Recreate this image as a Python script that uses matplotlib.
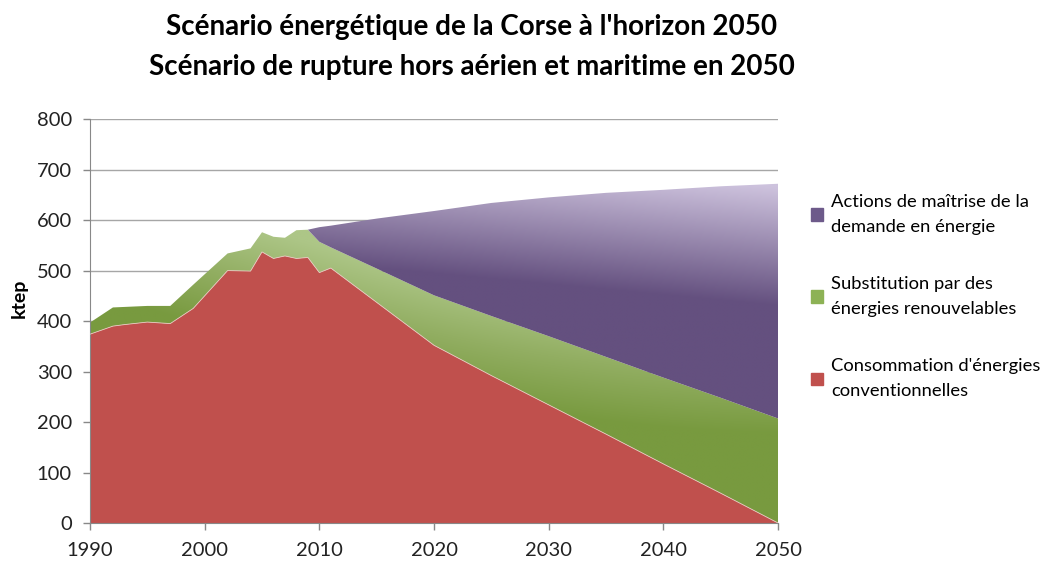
import numpy as np
import matplotlib
matplotlib.use("Agg")
import matplotlib.pyplot as plt
from matplotlib.colors import LinearSegmentedColormap
from matplotlib.patches import Patch

plt.rcParams['font.family'] = ['Lato', 'DejaVu Sans']

years = [1990, 1992, 1993, 1995, 1997, 1999, 2002, 2004, 2005, 2006, 2007, 2008,
         2009, 2010, 2011, 2013, 2015, 2020, 2025, 2030, 2035, 2040, 2045, 2050]
# conventional energy consumption (ktep)
conventionnelles = [374, 390, 393, 398, 395, 425, 500, 499, 537, 524, 529, 524,
                    526, 496, 505, 471, 437, 352, 292, 234, 176, 117, 59, 0]
# total with renewables (ktep)
total_enr = [397, 427, 428, 430, 430, 472, 534, 544, 576, 567, 565, 580,
             581, 557, 546, 525, 504, 451, 410, 370, 329, 288, 248, 207]
# total trend without demand-side actions (ktep)
total_tendanciel = [397, 427, 428, 430, 430, 472, 534, 544, 576, 567, 565, 580,
                    581, 586, 589, 596, 603, 618, 634, 645, 654, 660, 667, 672]

labels = ["Consommation d'énergies\nconventionnelles",
          "Substitution par des\nénergies renouvelables",
          "Actions de maîtrise de la\ndemande en énergie"]

x = np.array(years, dtype=float)
red = np.array(conventionnelles, dtype=float)
green = np.array(total_enr, dtype=float) - red
purple = np.array(total_tendanciel, dtype=float) - np.array(total_enr, dtype=float)

fig = plt.figure(figsize=(10.55, 5.62), dpi=100)
ax = fig.add_axes([0.0853, 0.0694, 0.6522, 0.7186])

ax.set_axisbelow(True)
ax.yaxis.grid(True, color='#a6a6a6', linewidth=1.0)

polys = ax.stackplot(x, red, green, purple,
                     colors=['#c0504d', '#8db255', '#6d5a8a'], linewidth=0)

# gradient fills
gx = np.linspace(1990, 2050, 300)
gy = np.linspace(0, 800, 400)
GX, GY = np.meshgrid(gx, gy)

cm_green = LinearSegmentedColormap.from_list(
    'g', [(0, '#789a3f'), (0.5, '#92ae62'), (1, '#adc687')])
sg = GY + 6.8 * (GX - 2010) - 0.08 * np.clip(GX - 2010, 0, None) ** 2
tg = np.clip((sg - 320) / 230, 0, 1)
img = ax.imshow(tg, extent=[1990, 2050, 0, 800], origin='lower', aspect='auto',
                cmap=cm_green, vmin=0, vmax=1, zorder=polys[1].get_zorder(),
                interpolation='bilinear')
img.set_clip_path(polys[1].get_paths()[0], transform=ax.transData)
polys[1].set_facecolor('none')

cm_purple = LinearSegmentedColormap.from_list('p', ['#64507f', '#cdc2dd'])
tp = np.clip((GY - 430) / 235 + (GX - 2050) * 0.009, 0, 1)
img2 = ax.imshow(tp, extent=[1990, 2050, 0, 800], origin='lower', aspect='auto',
                 cmap=cm_purple, vmin=0, vmax=1, zorder=polys[2].get_zorder(),
                 interpolation='bilinear')
img2.set_clip_path(polys[2].get_paths()[0], transform=ax.transData)
polys[2].set_facecolor('none')

ax.plot(x, red, color='#e8c8c0', linewidth=0.6, zorder=3)

ax.set_xlim(1990, 2050)
ax.set_ylim(0, 800)
ax.set_xticks(np.arange(1990, 2051, 10))
ax.set_yticks(np.arange(0, 801, 100))
ax.tick_params(axis='both', labelsize=14.5, colors='#888888', labelcolor='#222222',
               length=5, width=1)
ax.tick_params(axis='x', pad=9)
ax.tick_params(axis='y', pad=8)
for s in ['top', 'right']:
    ax.spines[s].set_visible(False)
for s in ['left', 'bottom']:
    ax.spines[s].set_color('#888888')

fig.text(0.018, 0.47, 'ktep', rotation=90, fontsize=14, fontweight='bold',
         ha='center', va='center')

fig.text(0.447, 0.952, "Scénario énergétique de la Corse à l'horizon 2050",
         fontsize=20, fontweight='bold', ha='center', va='center')
fig.text(0.447, 0.881, "Scénario de rupture hors aérien et maritime en 2050",
         fontsize=20, fontweight='bold', ha='center', va='center')

handles = [Patch(color='#6d5a8a'), Patch(color='#8db255'), Patch(color='#c0504d')]
leg = fig.legend(handles, [labels[2], labels[1], labels[0]],
                 loc='upper left', bbox_to_anchor=(0.753, 0.685), frameon=False,
                 fontsize=13.2, labelspacing=2.2, handlelength=0.65, handleheight=0.65,
                 handletextpad=0.45)
for t in leg.get_texts():
    t.set_linespacing(1.75)

fig.savefig('out.png', dpi=100)
